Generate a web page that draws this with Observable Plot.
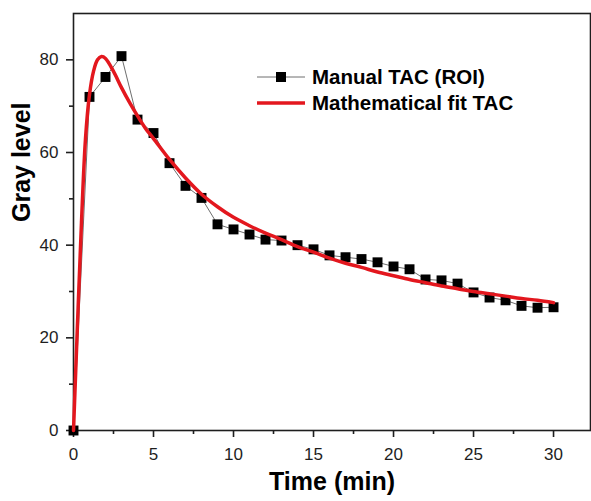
<!DOCTYPE html>
<html><head><meta charset="utf-8">
<script src="https://cdn.jsdelivr.net/npm/d3@7"></script>
<script src="https://cdn.jsdelivr.net/npm/@observablehq/plot@0.6"></script>
<style>
body{margin:0;background:#fff;font-family:"Liberation Sans",Arial,sans-serif;}
#wrap{position:relative;width:591px;height:501px;}
#legend{position:absolute;left:0;top:0;pointer-events:none;}
</style></head><body><div id="wrap"></div>
<script>
// Manual TAC (ROI) samples
const manualTime = [0,1,2,3,4,5,6,7,8,9,10,11,12,13,14,15,16,17,18,19,20,21,22,23,24,25,26,27,28,29,30];
const manualGray = [0,72.0,76.3,80.8,67.1,64.2,57.7,52.8,50.2,44.5,43.4,42.3,41.2,41.0,40.0,39.1,37.8,37.4,37.0,36.3,35.4,34.8,32.6,32.4,31.7,29.8,28.7,28.1,26.9,26.5,26.6];
// Mathematical fit TAC
const fitTime = [0,0.25,0.5,0.75,1.0,1.25,1.5,1.75,2.0,2.5,3.0,3.5,4.0,4.5,5,6,7,8,9,10,11,12,13,14,15,16,17,18,19,20,21,22,23,24,25,26,27,28,29,30];
const fitGray = [0,23,45,63,72.5,77.5,80,80.7,80.3,77.5,74,70.8,67.9,65.2,63,58.5,54.5,51,48.3,46,44.2,42.6,41.2,39.7,38.5,37.2,36.1,35.2,34.2,33.4,32.6,31.9,31.2,30.6,30.0,29.5,29.0,28.5,28.1,27.6];
const xMajorTicks = [0,5,10,15,20,25,30];
const xMinorTicks = [2.5,7.5,12.5,17.5,22.5,27.5];
const yMajorTicks = [0,20,40,60,80];
const yMinorTicks = [10,30,50,70];
const seriesNames = ["Manual TAC (ROI)", "Mathematical fit TAC"];
const xTitle = "Time (min)";
const yTitle = "Gray level";

const manual = manualTime.map((t,i)=>({t, v: manualGray[i]}));
const fit = fitTime.map((t,i)=>({t, v: fitGray[i]}));

const axisColor = "#1e1e1e";
const chart = Plot.plot({
  width: 591, height: 501,
  marginLeft: 73, marginRight: 1, marginTop: 13, marginBottom: 71,
  style: {fontFamily: '"Liberation Sans", Arial, sans-serif', fontSize: "17px", color: axisColor, background: "#fff"},
  x: {domain: [0, 32.31]},
  y: {domain: [0, 90]},
  marks: [
    Plot.frame({stroke: axisColor, strokeWidth: 1.6}),
    Plot.axisX(xMajorTicks, {tickSize: 7, tickPadding: 10, strokeWidth: 1.6, fontSize: 17, label: null}),
    Plot.axisX(xMinorTicks, {tickSize: 4, strokeWidth: 1.6, text: null, label: null}),
    Plot.axisY(yMajorTicks, {tickSize: 7, tickPadding: 8, strokeWidth: 1.6, fontSize: 17, label: null}),
    Plot.axisY(yMinorTicks, {tickSize: 4, strokeWidth: 1.6, text: null, label: null}),
    Plot.text([xTitle], {frameAnchor: "bottom", dy: 59, lineAnchor: "bottom", fontSize: 25, fontWeight: "bold", fill: "#000"}),
    Plot.text([yTitle], {frameAnchor: "left", dx: -61, rotate: -90, lineAnchor: "top", fontSize: 25, fontWeight: "bold", fill: "#000"}),
    Plot.line(manual, {x: "t", y: "v", stroke: "#6e6e6e", strokeWidth: 1}),
    Plot.dot(manual, {x: "t", y: "v", symbol: "square", r: 5.6, fill: "#000", stroke: "none"}),
    Plot.line(fit, {x: "t", y: "v", stroke: "#e3171e", strokeWidth: 3.5, curve: "catmull-rom"})
  ]
});
const wrap = document.getElementById("wrap");
wrap.appendChild(chart);

// Legend
const lg = d3.create("svg").attr("id","legend").attr("width",591).attr("height",140);
const rows = [
  {name: seriesNames[0], stroke: "#6e6e6e", sw: 1, square: true},
  {name: seriesNames[1], stroke: "#e3171e", sw: 3.5, square: false}
];
rows.forEach((r,i)=>{
  const y = 77 + i*26;
  lg.append("line").attr("x1",257).attr("x2",305).attr("y1",y).attr("y2",y).attr("stroke",r.stroke).attr("stroke-width",r.sw);
  if (r.square) lg.append("rect").attr("x",276).attr("y",y-5).attr("width",10).attr("height",10).attr("fill","#000");
  lg.append("text").attr("x",312).attr("y",y).attr("dy","0.35em").attr("font-family",'"Liberation Sans", Arial, sans-serif')
    .attr("font-size",20.5).attr("font-weight","bold").attr("fill","#000").text(r.name);
});
wrap.appendChild(lg.node());
</script></body></html>
